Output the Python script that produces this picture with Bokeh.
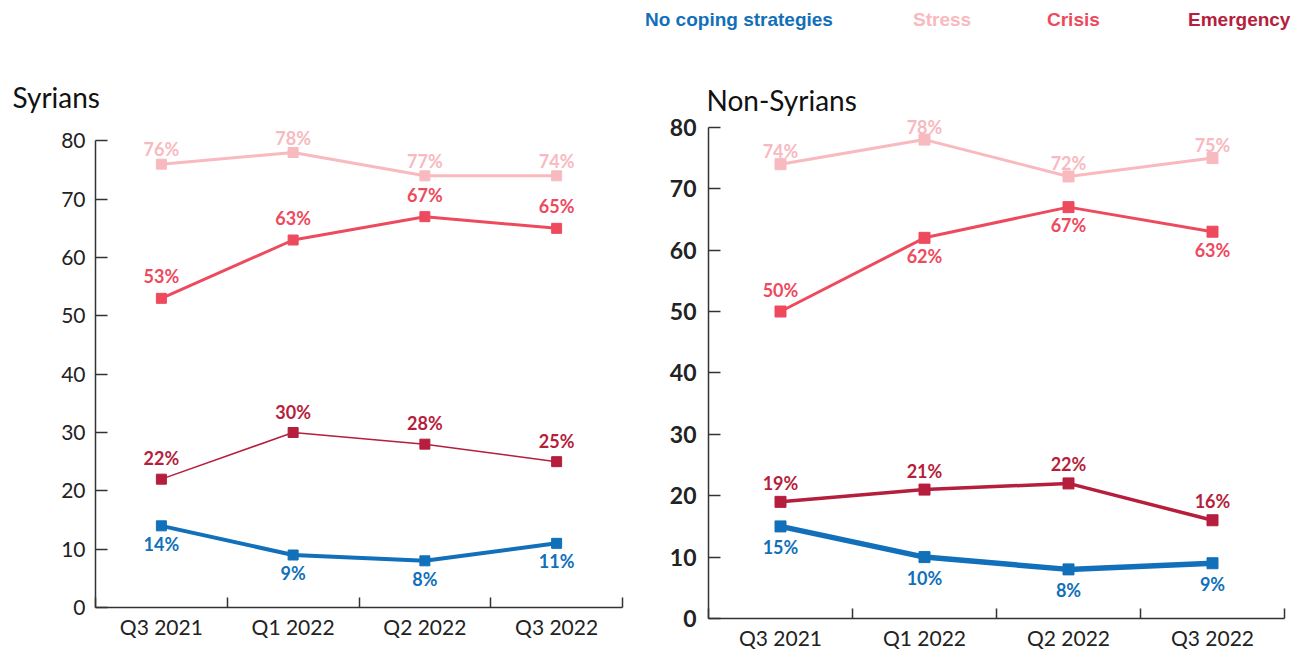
from bokeh.plotting import figure
from bokeh.models import (Range1d, FixedTicker, LabelSet, ColumnDataSource, Legend,
                          LegendItem, Label)
from bokeh.core.properties import value
from bokeh.layouts import column, row
from bokeh.embed import file_html
from bokeh.resources import INLINE

# ---------------- data ----------------
quarters = ["Q3 2021", "Q1 2022", "Q2 2022", "Q3 2022"]
series = ["No coping strategies", "Stress", "Crisis", "Emergency"]
y_ticks = [0, 10, 20, 30, 40, 50, 60, 70, 80]
panel_titles = ["Syrians", "Non-Syrians"]

syr_none = [14, 9, 8, 11]
syr_stress = [76, 78, 74, 74]
syr_crisis = [53, 63, 67, 65]
syr_emerg = [22, 30, 28, 25]
syr_stress_labels = [76, 78, 77, 74]

non_none = [15, 10, 8, 9]
non_stress = [74, 78, 72, 75]
non_crisis = [50, 62, 67, 63]
non_emerg = [19, 21, 22, 16]

# ---------------- styles ----------------
colors = {"No coping strategies": "#1170B9", "Stress": "#F8B9BF",
          "Crisis": "#EE4A5E", "Emergency": "#B51E3C"}
AX = "#333333"
TXT = "#222222"


def make_panel(vals, labs, place, widths, offs, cfg):
    n = len(quarters)
    xs = [i + 0.5 for i in range(n)]
    p = figure(frame_width=cfg["fw"], frame_height=cfg["fh"],
               x_range=Range1d(0, n), y_range=Range1d(0, cfg["ymax"]),
               output_backend="svg", toolbar_location=None,
               min_border_left=cfg["bl"], min_border_right=cfg["br"],
               min_border_top=cfg["bt"], min_border_bottom=cfg["bb"])
    p.xgrid.visible = False
    p.ygrid.visible = False
    p.outline_line_color = None
    p.background_fill_color = "white"

    ya = p.yaxis[0]
    ya.ticker = FixedTicker(ticks=y_ticks)
    ya.bounds = (y_ticks[0], y_ticks[-1])
    ya.major_tick_in = 12
    ya.major_tick_out = 0
    ya.minor_tick_line_color = None
    ya.axis_line_color = AX
    ya.axis_line_width = 1.5
    ya.major_tick_line_color = AX
    ya.major_tick_line_width = 1.5
    ya.major_label_text_font = "Lato"
    ya.major_label_text_font_size = cfg["yfs"]
    ya.major_label_text_font_style = cfg["yst"]
    ya.major_label_text_color = TXT
    ya.major_label_standoff = cfg["ysd"]

    xa = p.xaxis[0]
    xa.ticker = FixedTicker(ticks=xs, minor_ticks=list(range(n + 1)))
    xa.major_tick_line_color = None
    xa.minor_tick_in = 10
    xa.minor_tick_out = 0
    xa.minor_tick_line_color = AX
    xa.minor_tick_line_width = 1.5
    xa.axis_line_color = AX
    xa.axis_line_width = 1.5
    xa.major_label_overrides = {x: q for x, q in zip(xs, quarters)}
    xa.major_label_text_font = "Lato"
    xa.major_label_text_font_size = cfg["xfs"]
    xa.major_label_text_color = TXT
    xa.major_label_standoff = cfg["xsd"]

    for name in ["Stress", "Crisis", "Emergency", "No coping strategies"]:
        c = colors[name]
        p.line(xs, vals[name], line_color=c, line_width=widths[name])
        p.scatter(xs, vals[name], marker="square", size=cfg["ms"],
                  fill_color=c, line_color=c)
        up, down = offs[name]
        dy = [up if pl == "a" else -down for pl in place[name]]
        src = ColumnDataSource(dict(x=xs, y=vals[name],
                                    text=[f"{v}%" for v in labs[name]], dy=dy))
        p.add_layout(LabelSet(x="x", y="y", text="text", y_offset="dy", source=src,
                              text_align="center", text_baseline="middle",
                              text_font=value("Lato"), text_font_style="bold",
                              text_font_size="18px", text_color=c))
    return p


left = make_panel(
    {"No coping strategies": syr_none, "Stress": syr_stress,
     "Crisis": syr_crisis, "Emergency": syr_emerg},
    {"No coping strategies": syr_none, "Stress": syr_stress_labels,
     "Crisis": syr_crisis, "Emergency": syr_emerg},
    {"No coping strategies": "bbbb", "Stress": "aaaa", "Crisis": "aaaa", "Emergency": "aaaa"},
    {"No coping strategies": 4, "Stress": 3, "Crisis": 3, "Emergency": 1.5},
    {"No coping strategies": (18, 18), "Stress": (15, 15), "Crisis": (22, 18), "Emergency": (21, 18)},
    dict(fw=527, fh=490, ymax=84, bl=95, br=18, bt=1, bb=42, yfs="21px", yst="normal",
         ysd=10, xfs="21px", xsd=0, ms=10))

right = make_panel(
    {"No coping strategies": non_none, "Stress": non_stress,
     "Crisis": non_crisis, "Emergency": non_emerg},
    {"No coping strategies": non_none, "Stress": non_stress,
     "Crisis": non_crisis, "Emergency": non_emerg},
    {"No coping strategies": "bbbb", "Stress": "aaaa", "Crisis": "abbb", "Emergency": "aaaa"},
    {"No coping strategies": 5.5, "Stress": 3, "Crisis": 3, "Emergency": 3.5},
    {"No coping strategies": (21, 21), "Stress": (13, 13), "Crisis": (22, 18), "Emergency": (19, 19)},
    dict(fw=576, fh=501, ymax=81.6, bl=68, br=8, bt=0, bb=32, yfs="23px", yst="bold",
         ysd=12, xfs="21px", xsd=0, ms=11))

# ---------------- header strip: legend + panel titles ----------------
SW, SH = 1292, 116
hd = figure(width=SW, height=SH, x_range=Range1d(0, SW), y_range=Range1d(SH, 0),
            x_axis_type=None, y_axis_type=None, output_backend="svg",
            toolbar_location=None, min_border=0)
hd.xgrid.visible = False
hd.ygrid.visible = False
hd.outline_line_color = None
leg_x = {"No coping strategies": 595, "Stress": 855, "Crisis": 998, "Emergency": 1140}
leg_w = {"No coping strategies": 28, "Stress": 40, "Crisis": 32, "Emergency": 40}
leg_s = {"No coping strategies": 22, "Stress": 18, "Crisis": 17, "Emergency": 8}
for name in series:
    r = hd.line(x=[], y=[], line_color=colors[name], line_width=4)
    leg = Legend(items=[LegendItem(label=name, renderers=[r])],
                 location=(leg_x[name], SH - 31), orientation="horizontal",
                 glyph_width=leg_w[name], glyph_height=20, label_height=20,
                 label_standoff=leg_s[name], padding=0, margin=0, spacing=0,
                 border_line_alpha=0, background_fill_alpha=0,
                 label_text_font="Liberation Sans", label_text_font_style="bold",
                 label_text_font_size="19px", label_text_color=colors[name])
    hd.add_layout(leg)

title_pos = [(12, 96), (706, 99)]
for t, (tx, ty) in zip(panel_titles, title_pos):
    hd.add_layout(Label(x=tx, y=ty, text=t, text_font="Lato", text_font_size="28px",
                        text_color="#111111", text_align="left", text_baseline="middle"))

layout = column(hd, row(left, right))
open("out.html", "w").write(file_html(layout, INLINE))
